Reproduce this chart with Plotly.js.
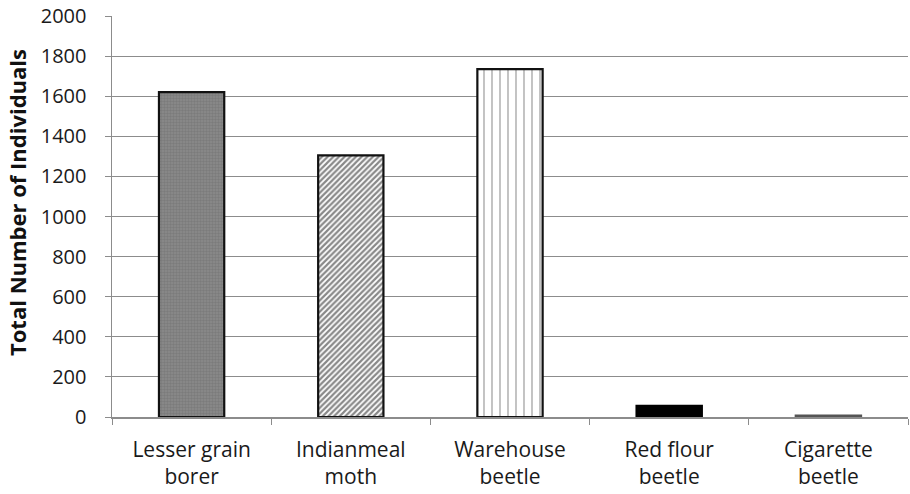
<!DOCTYPE html>
<html>
<head>
<meta charset="utf-8">
<script src="https://cdn.plot.ly/plotly-3.0.1.min.js"></script>
<style>html,body{margin:0;padding:0;background:#fff;}#chart{width:910px;height:494px;}</style>
</head>
<body>
<div id="chart"></div>
<script>
const categories = ["Lesser grain<br>borer", "Indianmeal<br>moth", "Warehouse<br>beetle", "Red flour<br>beetle", "Cigarette<br>beetle"];
const totals = [1620, 1305, 1735, 55, 7];
const yTicks = [0, 200, 400, 600, 800, 1000, 1200, 1400, 1600, 1800, 2000];
const yTitle = "Total Number of Individuals";

const fills = [
  {bg: "#8a8a8a", fg: "#6c6c6c", shape: ".", size: 3, sol: 0.5, line: "#111111"},
  {bg: "#ffffff", fg: "#111111", shape: "/", size: 4, sol: 0.55, line: "#111111"},
  {bg: "#ffffff", fg: "#777777", shape: "|", size: 8, sol: 0.22, line: "#111111"},
  {bg: "#000000", fg: "#000000", shape: "", size: 8, sol: 0.3, line: "#000000"},
  {bg: "#555555", fg: "#555555", shape: "", size: 8, sol: 0.3, line: "#555555"}
];

const traces = categories.map((c, i) => ({
  type: "bar",
  x: [c],
  y: [totals[i]],
  width: 0.41,
  marker: {
    color: fills[i].bg,
    line: {color: fills[i].line, width: 2.2},
    pattern: {
      shape: fills[i].shape,
      fgcolor: fills[i].fg,
      bgcolor: fills[i].bg,
      size: fills[i].size,
      solidity: fills[i].sol,
      fillmode: "overlay"
    }
  },
  hoverinfo: "skip"
}));

const layout = {
  width: 910, height: 494,
  margin: {l: 112, r: 2, t: 16, b: 77},
  barmode: "overlay",
  paper_bgcolor: "#ffffff",
  plot_bgcolor: "#ffffff",
  showlegend: false,
  font: {family: "Open Sans, sans-serif", color: "#1a1a1a"},
  xaxis: {
    type: "category",
    categoryorder: "array", categoryarray: categories,
    showline: true, linecolor: "#8c8c8c", linewidth: 1.5,
    ticks: "outside", tickson: "boundaries", ticklen: 6, tickcolor: "#8c8c8c",
    ticklabelstandoff: 13,
    tickfont: {size: 21, color: "#1a1a1a"},
    showgrid: false, zeroline: false
  },
  yaxis: {
    range: [0, 2000],
    tickvals: yTicks,
    ticktext: yTicks.map(String),
    showline: true, linecolor: "#8c8c8c", linewidth: 1.5,
    ticks: "outside", ticklen: 6, tickcolor: "#8c8c8c",
    ticklabelstandoff: 14,
    tickfont: {size: 20, color: "#1a1a1a"},
    showgrid: true, gridcolor: "#8c8c8c", gridwidth: 1,
    zeroline: false
  },
  annotations: [{
    text: "<b>" + yTitle + "</b>",
    textangle: -90,
    xref: "paper", yref: "paper",
    x: (17 - 112) / 796, y: (417 - 203) / 401,
    xanchor: "center", yanchor: "middle",
    showarrow: false,
    font: {size: 22, color: "#111111"}
  }]
};

Plotly.newPlot("chart", traces, layout, {displayModeBar: false, staticPlot: true});
</script>
</body>
</html>
